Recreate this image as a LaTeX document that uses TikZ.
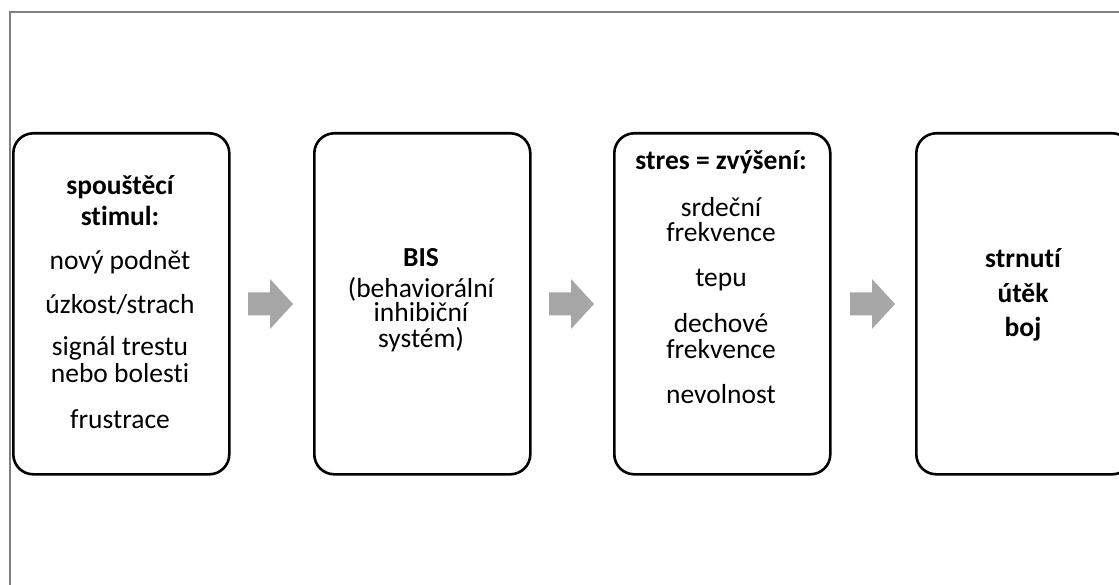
\documentclass[tikz,border=0pt]{standalone}
\usepackage{fontspec}
\setmainfont[RawFeature={-liga,-clig,-calt,-dlig}]{Carlito}
\definecolor{arrowgray}{RGB}{166,166,166}
\definecolor{framegray}{RGB}{128,128,128}
\begin{document}
\begin{tikzpicture}[x=1pt,y=-1pt,
  stage/.style={draw=black, line width=2.6pt, rounded corners=20pt, minimum width=216pt, minimum height=341pt, anchor=north west, inner sep=0pt},
  txt/.style={anchor=base, inner sep=0pt, align=center, font=\fontsize{27.5}{#1}\selectfont},
  txt/.default=26,
  hd/.style={anchor=base, inner sep=0pt, align=center, font=\fontsize{27.5}{#1}\selectfont\bfseries},
  hd/.default=30,
  blockarrow/.style={fill=arrowgray, draw=none}]
\useasboundingbox (0,0) rectangle (1119,585);
\clip (0,0) rectangle (1119,585);
% frame
\draw[framegray, line width=1.6pt] (10,590) -- (10,12) -- (1125,12);
% boxes
\node[stage] (b1) at (12,132) {};
\node[stage] (b2) at (313,132) {};
\node[stage] (b3) at (613,132) {};
\node[stage] (b4) at (915,132) {};
% arrows
\foreach \x in {248,549,850}{
  \fill[blockarrow] (\x,292.5) -- (\x+22,292.5) -- (\x+22,279) -- (\x+45,304) -- (\x+22,329) -- (\x+22,315.5) -- (\x,315.5) -- cycle;
}
% box 1
\node[hd=31] (t11) at (120,226) {spouštěcí\\stimul:};
\node[txt] (t13) at (120,270) {nový podnět};
\node[txt] (t14) at (120,313) {úzkost/strach};
\node[txt=27] (t15) at (120,382) {signál trestu\\nebo bolesti};
\node[txt] (t17) at (120,428) {frustrace};
% box 2
\node[hd] (t21) at (421,267) {BIS};
\node[txt=25] (t22) at (421,347) {(behaviorální\\inhibiční\\systém)};
% box 3
\node[hd] (t31) at (721,170) {stres = zvýšení:};
\node[txt=25] (t32) at (721,242) {srdeční\\frekvence};
\node[txt] (t34) at (721,287) {tepu};
\node[txt=26] (t35) at (721,358) {dechové\\frekvence};
\node[txt] (t37) at (721,403) {nevolnost};
% box 4
\node[hd=35] (t41) at (1023,337) {strnutí\\útěk\\boj};
\end{tikzpicture}
\end{document}
